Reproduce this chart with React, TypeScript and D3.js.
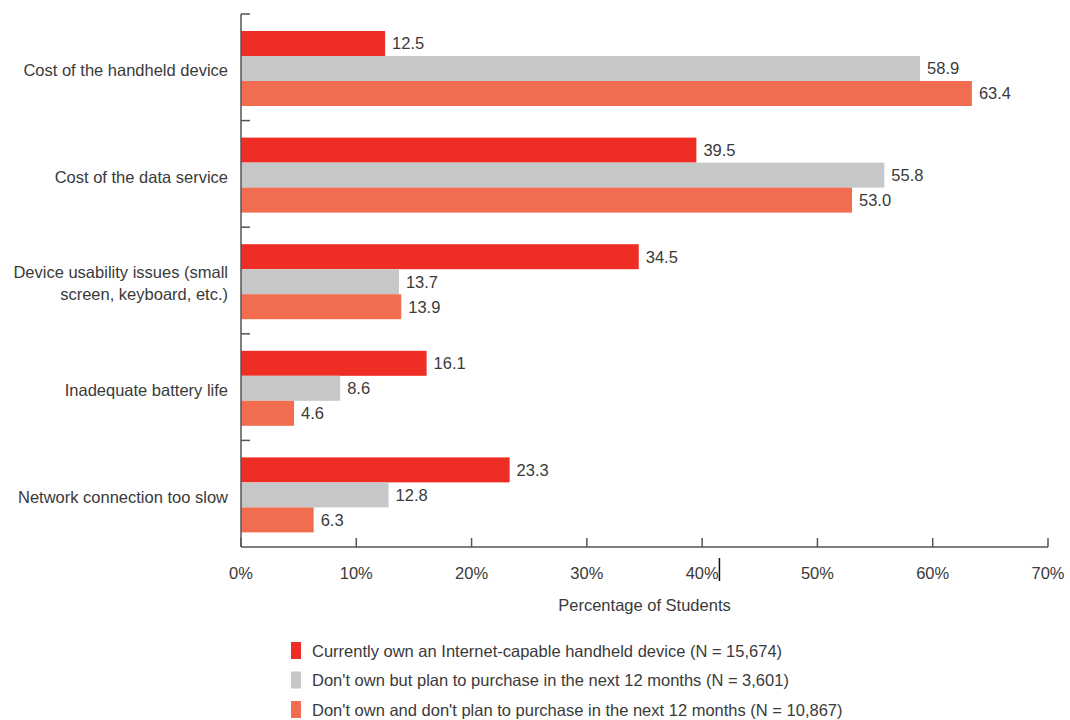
import React, { useRef, useEffect } from 'react';
import * as d3 from 'd3';

const categories = [
  ['Cost of the handheld device'],
  ['Cost of the data service'],
  ['Device usability issues (small', 'screen, keyboard, etc.)'],
  ['Inadequate battery life'],
  ['Network connection too slow'],
];

const seriesNames = [
  'Currently own an Internet-capable handheld device (N = 15,674)',
  "Don't own but plan to purchase in the next 12 months (N = 3,601)",
  "Don't own and don't plan to purchase in the next 12 months (N = 10,867)",
];

const ownValues = [12.5, 39.5, 34.5, 16.1, 23.3];
const planValues = [58.9, 55.8, 13.7, 8.6, 12.8];
const noPlanValues = [63.4, 53.0, 13.9, 4.6, 6.3];

const xTicks = [0, 10, 20, 30, 40, 50, 60, 70];

const colors = ['#EE2D24', '#C6C7C9', '#F26C4F'];

const App: React.FC = () => {
  const svgRef = useRef<SVGSVGElement | null>(null);
  const width = 1070;
  const height = 720;

  useEffect(() => {
    if (!svgRef.current) return;
    const svg = d3.select(svgRef.current);
    svg.selectAll('*').remove();

    const font = '"Liberation Sans", Arial, sans-serif';
    const fs = 16.5;
    const textColor = '#3a3a3a';
    const axisColor = '#555';
    // svg is pinned to the page corner, so these are page pixels
    const left = 241;
    const right = 1048;
    const top = 14;
    const bottom = 547;

    const x = d3.scaleLinear().domain([0, 70]).range([left, right]);
    const y = d3.scaleBand<number>()
      .domain(d3.range(categories.length))
      .range([top, bottom]);

    const series = [ownValues, planValues, noPlanValues];
    const inner = d3.scaleBand<number>()
      .domain([0, 1, 2])
      .range([17, 17 + 75]);

    // bars
    series.forEach((vals, s) => {
      const g = svg.append('g');
      g.selectAll('rect')
        .data(vals)
        .join('rect')
        .attr('x', x(0))
        .attr('y', (_d, i) => y(i)! + inner(s)!)
        .attr('width', d => x(d) - x(0))
        .attr('height', inner.bandwidth())
        .attr('fill', colors[s]);

      g.selectAll('text')
        .data(vals)
        .join('text')
        .attr('x', d => x(d) + 7)
        .attr('y', (_d, i) => y(i)! + inner(s)! + inner.bandwidth() / 2)
        .attr('dy', '0.36em')
        .attr('font-family', font)
        .attr('font-size', fs)
        .attr('fill', textColor)
        .text(d => d.toFixed(1));
    });

    // left axis
    svg.append('line')
      .attr('x1', x(0)).attr('x2', x(0))
      .attr('y1', top).attr('y2', bottom)
      .attr('stroke', axisColor).attr('stroke-width', 1.5);
    d3.range(categories.length).forEach(i => {
      svg.append('line')
        .attr('x1', x(0)).attr('x2', x(0) + 9)
        .attr('y1', y(i)!).attr('y2', y(i)!)
        .attr('stroke', axisColor).attr('stroke-width', 1.5);
    });

    // category labels
    categories.forEach((lines, i) => {
      const cy = y(i)! + y.bandwidth() / 2 + 3;
      const t = svg.append('text')
        .attr('text-anchor', 'end')
        .attr('font-family', font)
        .attr('font-size', fs)
        .attr('fill', textColor);
      lines.forEach((ln, k) => {
        t.append('tspan')
          .attr('x', left - 13)
          .attr('y', cy + (k - (lines.length - 1) / 2) * 22)
          .attr('dy', '0.36em')
          .text(ln);
      });
    });

    // bottom axis
    svg.append('line')
      .attr('x1', x(0)).attr('x2', x(70))
      .attr('y1', bottom).attr('y2', bottom)
      .attr('stroke', axisColor).attr('stroke-width', 1.5);
    xTicks.forEach(t => {
      svg.append('line')
        .attr('x1', x(t)).attr('x2', x(t))
        .attr('y1', bottom).attr('y2', bottom - 9)
        .attr('stroke', axisColor).attr('stroke-width', 1.5);
      svg.append('text')
        .attr('x', x(t))
        .attr('y', bottom + 26)
        .attr('dy', '0.36em')
        .attr('text-anchor', 'middle')
        .attr('font-family', font)
        .attr('font-size', fs)
        .attr('fill', textColor)
        .text(`${t}%`);
    });
    // stray mark next to 40%
    svg.append('line')
      .attr('x1', x(41.5)).attr('x2', x(41.5))
      .attr('y1', bottom + 11).attr('y2', bottom + 34)
      .attr('stroke', '#111').attr('stroke-width', 1.5);

    svg.append('text')
      .attr('x', (x(0) + x(70)) / 2)
      .attr('y', bottom + 58)
      .attr('dy', '0.36em')
      .attr('text-anchor', 'middle')
      .attr('font-family', font)
      .attr('font-size', fs)
      .attr('fill', textColor)
      .text('Percentage of Students');

    // legend
    seriesNames.forEach((name, s) => {
      const ly = 651 + s * 29.5;
      svg.append('rect')
        .attr('x', 291).attr('y', ly - 9)
        .attr('width', 10).attr('height', 17)
        .attr('fill', colors[s]);
      svg.append('text')
        .attr('x', 312).attr('y', ly)
        .attr('dy', '0.36em')
        .attr('font-family', font)
        .attr('font-size', fs)
        .attr('fill', textColor)
        .text(name);
    });
  }, []);

  return (
    <svg
      ref={svgRef}
      width={width}
      height={height}
      style={{ position: 'absolute', left: 0, top: 0 }}
    ></svg>
  );
};

export default App;
